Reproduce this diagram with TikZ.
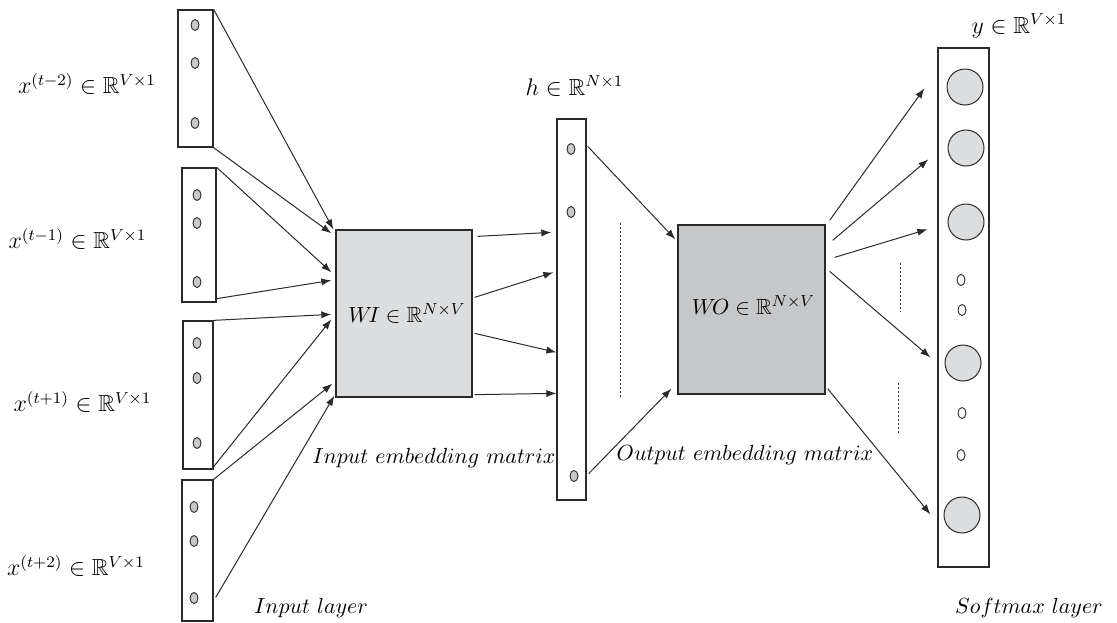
\documentclass[tikz,border=0pt]{standalone}
\usepackage{amsmath,amssymb}
\usetikzlibrary{arrows.meta,calc,shapes.geometric}
\definecolor{lightfill}{HTML}{DCDDDF}
\definecolor{darkfill}{HTML}{C6C7C9}
\definecolor{dotfill}{HTML}{C8C8C8}
\definecolor{edge}{HTML}{2A2A2A}
\tikzset{
  vecbox/.style={draw=edge,line width=0.65pt,fill=white,rectangle,inner sep=0pt},
  matbox/.style={draw=edge,line width=0.65pt,rectangle,inner sep=0pt},
  gdot/.style={draw=edge,line width=0.45pt,fill=dotfill,ellipse,inner sep=0pt,minimum width=4pt,minimum height=5.5pt},
  wdot/.style={draw=edge,line width=0.45pt,fill=white,ellipse,inner sep=0pt,minimum width=4pt,minimum height=5.5pt},
  bigdot/.style={draw=edge,line width=0.5pt,fill=lightfill,circle,inner sep=0pt,minimum size=18pt},
  arr/.style={draw=edge,line width=0.5pt,-{Latex[length=5pt,width=3.6pt]}},
  dotline/.style={draw=edge,line width=0.4pt,dash pattern=on 1pt off 1pt},
  lbl/.style={inner sep=0pt,font=\fontsize{11}{13}\selectfont},
  xlbl/.style={inner sep=0pt,font=\fontsize{11.6}{13}\selectfont},
}
\begin{document}
\begin{tikzpicture}[x=0.5pt,y=-0.5pt]
\useasboundingbox (0,0) rectangle (1117,622);
% input vectors
\node[vecbox,minimum width=17.5pt,minimum height=68.5pt] (in1) at (195.5,78.5) {};
\node[vecbox,minimum width=17pt,minimum height=67pt] (in2) at (199,235) {};
\node[vecbox,minimum width=15pt,minimum height=74pt] (in3) at (198,395) {};
\node[vecbox,minimum width=15.5pt,minimum height=70.5pt] (in4) at (197.5,550.5) {};
\node[gdot] (d11) at (195,25) {};
\node[gdot] (d12) at (195,63) {};
\node[gdot] (d13) at (195,123) {};
\node[gdot] (d21) at (197,195) {};
\node[gdot] (d22) at (197,223) {};
\node[gdot] (d23) at (197,282) {};
\node[gdot] (d31) at (197,343) {};
\node[gdot] (d32) at (197,378) {};
\node[gdot] (d33) at (197,443) {};
\node[gdot] (d41) at (194,507) {};
\node[gdot] (d42) at (194,541) {};
\node[gdot] (d43) at (194,598) {};
% matrices
\node[matbox,fill=lightfill,minimum width=68pt,minimum height=83.5pt] (wi) at (404,313.5) {};
\node[matbox,fill=darkfill,minimum width=73.5pt,minimum height=84.5pt] (wo) at (751.5,309.5) {};
% hidden vector
\node[vecbox,minimum width=14.5pt,minimum height=190.5pt] (h) at (571.5,309.5) {};
\node[gdot] (h1) at (571,149) {};
\node[gdot] (h2) at (571,212) {};
\node[gdot] (h3) at (574,476) {};
% output vector
\node[vecbox,minimum width=25.5pt,minimum height=259.5pt] (yb) at (963.5,307.5) {};
\node[bigdot] (y1) at (965,87) {};
\node[bigdot] (y2) at (966,148) {};
\node[bigdot] (y3) at (966,222) {};
\node[wdot] (ys1) at (961,280) {};
\node[wdot] (ys2) at (962,310) {};
\node[bigdot] (y4) at (963,363) {};
\node[wdot] (ys3) at (962,413) {};
\node[wdot] (ys4) at (961,455) {};
\node[bigdot] (y5) at (962,515) {};
% dashed separators
\coordinate (s1a) at (620,223); \coordinate (s1b) at (620,398);
\coordinate (s2a) at (900,263); \coordinate (s2b) at (900,312);
\coordinate (s3a) at (898,383); \coordinate (s3b) at (898,433);
\draw[dotline] (s1a) -- (s1b);
\draw[dotline] (s2a) -- (s2b);
\draw[dotline] (s3a) -- (s3b);
% input -> WI
\draw[arr] (in1.north east) -- ($(wi.north west)+(-2,0)$);
\draw[arr] (in1.south east) -- ($(wi.north west)+(-4,4)$);
\draw[arr] (in2.north east) -- ($(wi.north west)+(-4,43)$);
\draw[arr] ($(in2.south east)+(0,-4)$) -- ($(wi.north west)+(-4,51)$);
\draw[arr] (in3.north east) -- ($(wi.north west)+(-4,85)$);
\draw[arr] ($(in3.south east)+(0,-3)$) -- ($(wi.north west)+(-4,90)$);
\draw[arr] (in4.north east) -- ($(wi.south west)+(-3,-14)$);
\draw[arr] ($(in4.east)+(2,47)$) -- ($(wi.south west)+(-1,-2)$);
% WI -> h
\draw[arr] ($(wi.north east)+(5,7)$) -- ($(h.north west)+(-5,114)$);
\draw[arr] ($(wi.north east)+(2,68)$) -- ($(h.north west)+(-3,154)$);
\draw[arr] ($(wi.north east)+(2,104)$) -- ($(h.north west)+(0,234)$);
\draw[arr] ($(wi.south east)+(2,-3)$) -- ($(h.north west)+(0,275)$);
% h -> WO
\draw[arr] ($(h.north east)+(1,28)$) -- ($(wo.north west)+(-2,15)$);
\draw[arr] ($(h.south east)+(2,-27)$) -- ($(wo.south west)+(-6,-6)$);
% WO -> y
\draw[arr] ($(wo.north east)+(4,-4)$) -- ($(yb.north west)+(-13,41)$);
\draw[arr] ($(wo.north east)+(7,16)$) -- ($(yb.north west)+(-9,112)$);
\draw[arr] ($(wo.north east)+(9,33)$) -- ($(yb.north west)+(-10,182)$);
\draw[arr] ($(wo.north east)+(4,47)$) -- ($(yb.north west)+(-7,310)$);
\draw[arr] ($(wo.south east)+(2,-6)$) -- ($(yb.north west)+(-7,467)$);
% labels
\node[xlbl] (lx1) at (87,84) {$x^{(t-2)}\in\mathbb{R}^{V\times 1}$};
\node[xlbl] (lx2) at (77.5,239) {$x^{(t-1)}\in\mathbb{R}^{V\times 1}$};
\node[xlbl] (lx3) at (82.5,402) {$x^{(t+1)}\in\mathbb{R}^{V\times 1}$};
\node[xlbl] (lx4) at (76,566) {$x^{(t+2)}\in\mathbb{R}^{V\times 1}$};
\node[xlbl] (lh) at (574.5,86) {$h\in\mathbb{R}^{N\times 1}$};
\node[xlbl] (ly) at (1019,26) {$y\in\mathbb{R}^{V\times 1}$};
\node[lbl] (lwi) at (407,313) {$W\!I\in\mathbb{R}^{N\times V}$};
\node[lbl] (lwo) at (753.5,305) {$W\!O\in\mathbb{R}^{N\times V}$};
\node[lbl] (lie) at (434,458) {$Input\ embedding\ matrix$};
\node[lbl] (loe) at (745,455) {$Output\ embedding\ matrix$};
\node[lbl] (lil) at (311,608) {$Input\ layer$};
\node[lbl] (lsl) at (1029,608) {$Softmax\ layer$};
\end{tikzpicture}
\end{document}
